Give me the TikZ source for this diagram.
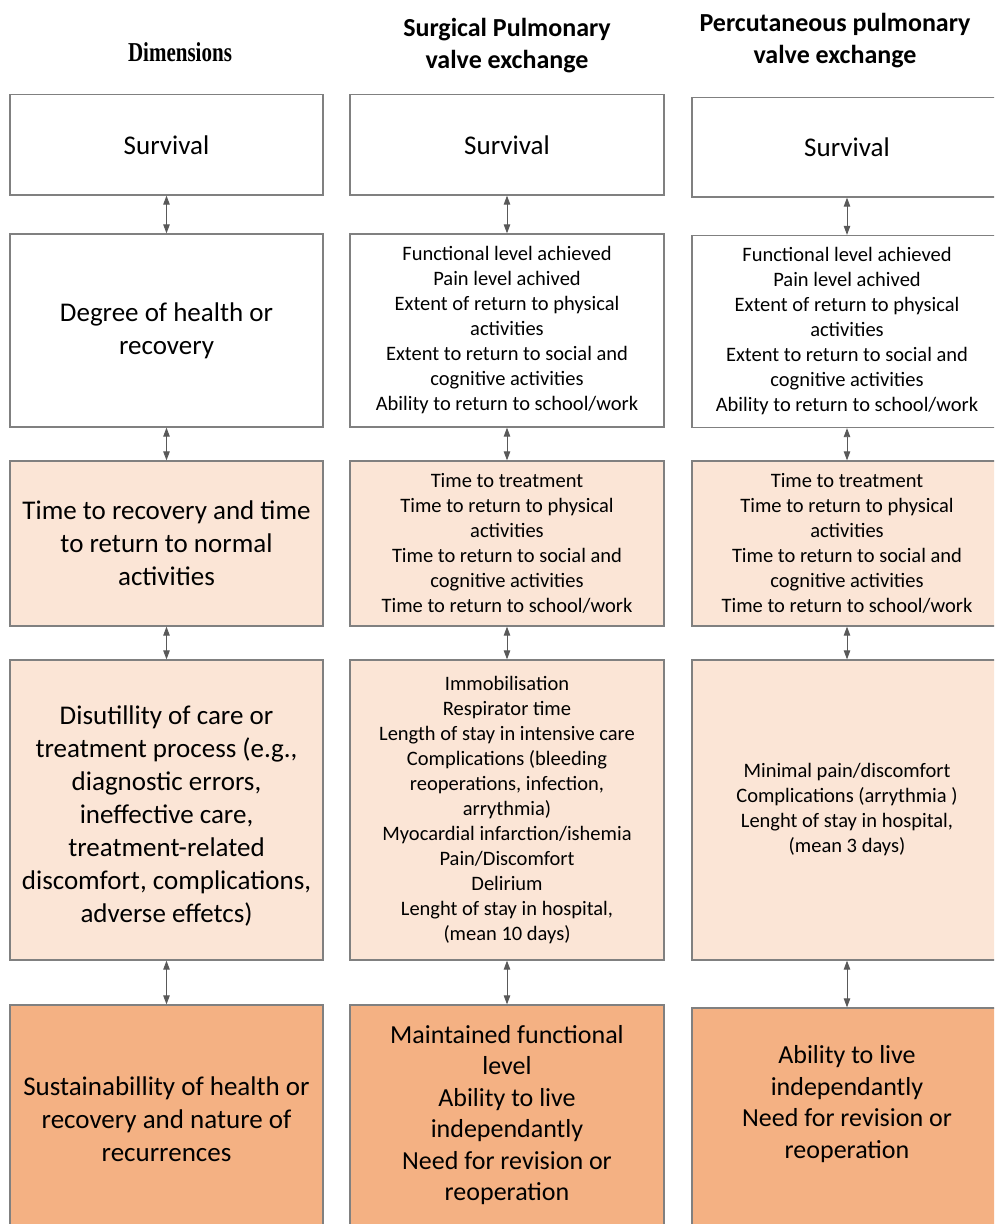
\documentclass[tikz,border=0pt]{standalone}
\usepackage{fontspec}
\setmainfont{Carlito}
\newfontfamily\timesf{Liberation Serif}
\usetikzlibrary{arrows.meta}
\definecolor{bordc}{HTML}{808080}
\definecolor{arrc}{HTML}{595959}
\definecolor{lightp}{HTML}{FBE5D6}
\definecolor{darkp}{HTML}{F4B183}
\begin{document}
\begin{tikzpicture}[x=1pt,y=-1pt,
  box/.style={draw=bordc, line width=1.3pt, inner sep=0pt, align=center, text=black},
  big/.style={font=\fontsize{27}{33}\selectfont},
  small/.style={font=\fontsize{20.5}{25}\selectfont},
  mid/.style={font=\fontsize{26}{31.5}\selectfont},
  txt/.style={inner sep=0pt, align=center, text=black},
  conn/.style={draw=arrc, line width=0.9pt, {Triangle[length=9pt,width=6.5pt]}-{Triangle[length=9pt,width=6.5pt]}},
  hdr/.style={font=\fontsize{26}{32}\selectfont\bfseries, align=center, inner sep=0pt}]
\path[use as bounding box] (0,0) rectangle (994,1224);
\clip (0,0) rectangle (994,1224);
\fill[white] (0,0) rectangle (994,1224);

% headers
\node[txt, font=\timesf\fontsize{21}{25}\selectfont\bfseries] (h1) at (180,52) {\scalebox{1}[1.3]{Dimensions}};
\node[hdr] (h2) at (507,46) {Surgical Pulmonary\\valve exchange};
\node[hdr] (h3) at (835,41) {Percutaneous pulmonary\\valve exchange};

% column 1
\node[box, big, minimum width=313pt, minimum height=100.5pt] (a1) at (166.5,144.75) {Survival};
\node[box, big, minimum width=313pt, minimum height=193pt] (a2) at (166.5,330.5) {Degree of health or\\recovery};
\node[box, big, fill=lightp, minimum width=313pt, minimum height=165pt] (a3) at (166.5,543.5) {Time to recovery and time\\to return to normal\\activities};
\node[box, big, fill=lightp, minimum width=313pt, minimum height=300pt] (a4) at (166.5,810) {};
\node[txt, big] (a4t) at (166.5,816) {Disutillity of care or\\treatment process (e.g.,\\diagnostic errors,\\ineffective care,\\treatment-related\\discomfort, complications,\\adverse effetcs)};
\node[box, fill=darkp, minimum width=313pt, minimum height=240pt] (a5) at (166.5,1125) {};
\node[txt, big] (a5t) at (166.5,1119) {Sustainabillity of health or\\recovery and nature of\\recurrences};

% column 2
\node[box, big, minimum width=314pt, minimum height=100.5pt] (b1) at (507,144.75) {Survival};
\node[box, small, minimum width=314pt, minimum height=193pt] (b2) at (507,330.5) {Functional level achieved\\Pain level achived\\Extent of return to physical\\activities\\Extent to return to social and\\cognitive activities\\Ability to return to school/work};
\node[box, small, fill=lightp, minimum width=314pt, minimum height=165pt] (b3) at (507,543.5) {Time to treatment\\Time to return to physical\\activities\\Time to return to social and\\cognitive activities\\Time to return to school/work};
\node[box, small, fill=lightp, minimum width=314pt, minimum height=300pt] (b4) at (507,810) {Immobilisation\\Respirator time\\Length of stay in intensive care\\Complications (bleeding\\reoperations, infection,\\arrythmia)\\Myocardial infarction/ishemia\\Pain/Discomfort\\Delirium\\Lenght of stay in hospital,\\(mean 10 days)};
\node[box, fill=darkp, minimum width=314pt, minimum height=240pt] (b5) at (507,1125) {};
\node[txt, mid] (b5t) at (507,1115) {Maintained functional\\level\\Ability to live\\independantly\\Need for revision or\\reoperation};

% column 3
\node[box, big, minimum width=310pt, minimum height=99.5pt] (c1) at (847,147.25) {Survival};
\node[box, small, minimum width=310pt, minimum height=192pt] (c2) at (847,331.5) {Functional level achieved\\Pain level achived\\Extent of return to physical\\activities\\Extent to return to social and\\cognitive activities\\Ability to return to school/work};
\node[box, small, fill=lightp, minimum width=310pt, minimum height=165pt] (c3) at (847,543.5) {Time to treatment\\Time to return to physical\\activities\\Time to return to social and\\cognitive activities\\Time to return to school/work};
\node[box, small, fill=lightp, minimum width=310pt, minimum height=300pt] (c4) at (847,810) {Minimal pain/discomfort\\Complications (arrythmia )\\Lenght of stay in hospital,\\(mean 3 days)};
\node[box, fill=darkp, minimum width=310pt, minimum height=236pt] (c5) at (847,1126) {};
\node[txt, mid] (c5t) at (847,1104) {Ability to live\\independantly\\Need for revision or\\reoperation};

% connectors
\foreach \c in {a,b,c}{
  \draw[conn] (\c1.south) -- (\c2.north);
  \draw[conn] (\c2.south) -- (\c3.north);
  \draw[conn] (\c3.south) -- (\c4.north);
  \draw[conn] (\c4.south) -- (\c5.north);
}
\end{tikzpicture}
\end{document}
